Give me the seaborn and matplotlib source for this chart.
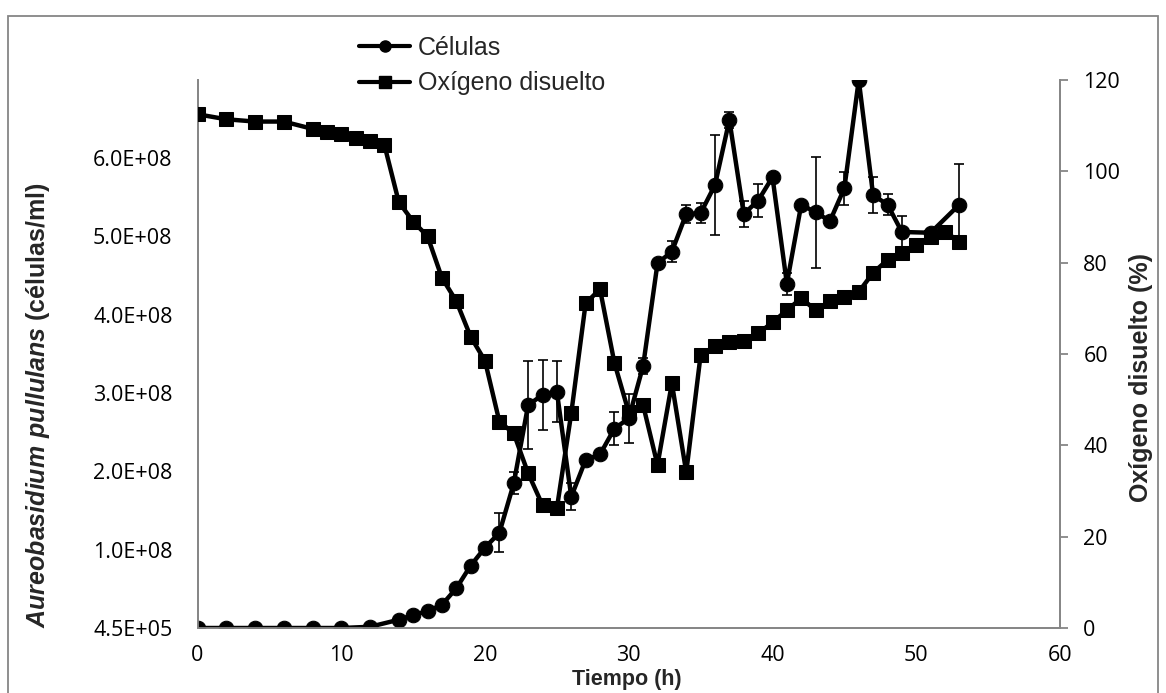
import matplotlib
matplotlib.use("Agg")
import matplotlib.pyplot as plt
from matplotlib.ticker import FixedLocator, FuncFormatter
from matplotlib.lines import Line2D
from matplotlib.patches import Rectangle
import seaborn as sns
import numpy as np
import pandas as pd

# ---- data ----
t_cells = [0, 2, 4, 6, 8, 10, 12, 14, 15, 16, 17, 18, 19, 20, 21, 22, 23, 24, 25, 26,
           27, 28, 29, 30, 31, 32, 33, 34, 35, 36, 37, 38, 39, 40, 41, 42, 43, 44, 45,
           46, 47, 48, 49, 51, 53]
cells = [4.5e5, 4.5e5, 4.5e5, 4.5e5, 4.5e5, 4.5e5, 2.0e6, 1.1e7, 1.7e7, 2.2e7, 3.0e7,
         5.1e7, 8.0e7, 1.03e8, 1.22e8, 1.85e8, 2.85e8, 2.98e8, 3.02e8, 1.68e8, 2.15e8,
         2.22e8, 2.55e8, 2.68e8, 3.35e8, 4.66e8, 4.81e8, 5.29e8, 5.30e8, 5.66e8, 6.49e8,
         5.29e8, 5.46e8, 5.76e8, 4.40e8, 5.41e8, 5.31e8, 5.20e8, 5.62e8, 7.0e8, 5.53e8,
         5.41e8, 5.06e8, 5.05e8, 5.41e8]
cells_err = [0, 0, 0, 0, 0, 0, 0, 0, 0, 0, 0, 0, 0, 0, 0.25e8, 0.14e8, 0.56e8, 0.45e8,
             0.39e8, 0.17e8, 0, 0, 0.21e8, 0.31e8, 0.10e8, 0, 0.13e8, 0.11e8, 0.13e8,
             0.64e8, 0.10e8, 0.17e8, 0.21e8, 0, 0.14e8, 0, 0.71e8, 0, 0.21e8, 0.05e8,
             0.23e8, 0.13e8, 0.20e8, 0.05e8, 0.52e8]

t_oxy = [0, 2, 4, 6, 8, 9, 10, 11, 12, 13, 14, 15, 16, 17, 18, 19, 20, 21, 22, 23, 24,
         25, 26, 27, 28, 29, 30, 31, 32, 33, 34, 35, 36, 37, 38, 39, 40, 41, 42, 43, 44,
         45, 46, 47, 48, 49, 50, 51, 52, 53]
oxy = [112.5, 111.4, 110.9, 110.9, 109.3, 108.7, 108.2, 107.4, 106.7, 105.8, 93.3, 89.0,
       85.8, 76.7, 71.6, 63.8, 58.5, 45.2, 42.6, 33.9, 26.9, 26.2, 47.0, 71.1, 74.2, 58.1,
       47.2, 48.8, 35.7, 53.6, 34.1, 59.8, 61.7, 62.7, 62.9, 64.5, 66.9, 69.6, 72.2, 69.6,
       71.5, 72.4, 73.6, 77.8, 80.6, 82.2, 83.9, 85.7, 86.8, 84.6]

x_ticks = [0, 10, 20, 30, 40, 50, 60]
left_min, left_step, left_max = 4.5e5, 1.0e8, 7.0e8
right_ticks = [0, 20, 40, 60, 80, 100, 120]

label_cells = "Células"
label_oxy = "Oxígeno disuelto"
xlabel = "Tiempo (h)"
ylabel_right = "Oxígeno disuelto (%)"

# ---- style ----
sns.set_style("white")
plt.rcParams['font.family'] = ['Open Sans', 'DejaVu Sans']
plt.rcParams['mathtext.fontset'] = 'custom'
plt.rcParams['mathtext.bfit'] = 'Liberation Sans:italic:bold'
plt.rcParams['mathtext.bf'] = 'Liberation Sans:bold'
plt.rcParams['mathtext.rm'] = 'Liberation Sans'

W, H = 1166, 693
fig = plt.figure(figsize=(W / 100, H / 100), dpi=100)
x0, x1, y0, y1 = 197.5, 1060, 80, 628
ax = fig.add_axes([x0 / W, 1 - y1 / H, (x1 - x0) / W, (y1 - y0) / H])
ax2 = ax.twinx()

gray = "#868686"

df_c = pd.DataFrame({"t": t_cells, "v": cells})
df_o = pd.DataFrame({"t": t_oxy, "v": oxy})

err = np.array(cells_err)
mask = err > 0
ax.errorbar(np.array(t_cells)[mask], np.array(cells)[mask], yerr=err[mask], fmt='none',
            ecolor='black', elinewidth=1.2, capsize=3.8, capthick=1.2, zorder=2)
sns.lineplot(data=df_c, x="t", y="v", ax=ax, color="black", linewidth=3.2, marker="o",
             markersize=10.5, markeredgecolor="black", sort=False, zorder=3)
sns.lineplot(data=df_o, x="t", y="v", ax=ax2, color="black", linewidth=3.2, marker="s",
             markersize=10, markeredgecolor="black", sort=False, zorder=3)

ax.set_xlim(0, 60)
ax.set_ylim(left_min, left_max)
ax2.set_ylim(0, 120)

lt = [left_min + k * left_step for k in range(7)]
ax.yaxis.set_major_locator(FixedLocator(lt))
ax.yaxis.set_major_formatter(FuncFormatter(lambda v, p: "%.1E" % v))
ax.xaxis.set_major_locator(FixedLocator(x_ticks))
ax2.yaxis.set_major_locator(FixedLocator(right_ticks))

for a in (ax, ax2):
    a.spines['top'].set_visible(False)
    for s in ('left', 'bottom', 'right'):
        a.spines[s].set_color(gray)
        a.spines[s].set_linewidth(1.3)

ax.tick_params(axis='y', length=0, pad=18, labelsize=15.5, colors='black')
ax.tick_params(axis='x', length=0, pad=12, labelsize=15.5, colors='black')
ax2.tick_params(axis='y', length=5.8, width=1.3, color=gray, pad=11, labelsize=15.5,
                labelcolor='black', direction='out')

ax.set_xlabel("")
ax.set_ylabel("")
ax2.set_ylabel("")

fig.text(627 / W, 1 - 680 / H, xlabel, ha='center', va='center', fontsize=15.5,
         fontweight='bold', family='Liberation Sans')
fig.text(38 / W, 1 - 405 / H,
         r"$\mathbfit{Aureobasidium\ pullulans}$ (células/ml)",
         ha='center', va='center', rotation=90, fontsize=18, fontweight='bold',
         family='Liberation Sans')
fig.text(1141 / W, 1 - 378 / H, ylabel_right, ha='center', va='center', rotation=90,
         fontsize=18, fontweight='bold', family='Liberation Sans')

handles = [Line2D([], [], color='black', lw=3, marker='o', markersize=8),
           Line2D([], [], color='black', lw=3, marker='s', markersize=8)]
fig.legend(handles, [label_cells, label_oxy], loc='upper left',
           bbox_to_anchor=(359 / W, 1 - 36 / H), frameon=False, handlelength=2.05,
           handletextpad=0.3, labelspacing=0.45, borderaxespad=0, borderpad=0,
           prop={'family': 'Liberation Sans', 'size': 18})

fig.patches.append(Rectangle((8 / W, -0.02), (1158 - 8) / W, 1 - 16 / H + 0.02,
                             transform=fig.transFigure, fill=False, edgecolor=gray,
                             linewidth=1.3))

fig.savefig("out.png", dpi=100)
